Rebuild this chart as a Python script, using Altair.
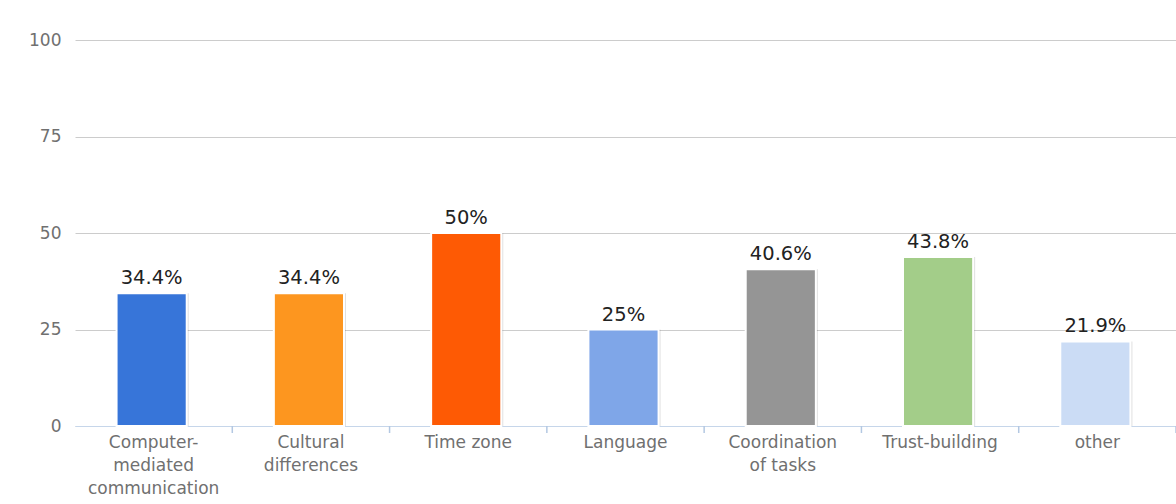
import altair as alt
import pandas as pd

categories = ["Computer-|mediated|communication", "Cultural|differences", "Time zone",
              "Language", "Coordination|of tasks", "Trust-building", "other"]
values = [34.4, 34.4, 50, 25, 40.6, 43.8, 21.9]
colors = ["#3775d9", "#fd961f", "#fe5a04", "#7fa6e8", "#959595", "#a3cd89", "#cbdcf5"]
y_ticks = [0, 25, 50, 75, 100]

df = pd.DataFrame({"cat": categories, "value": values})
df["label"] = [f"{v:g}%" for v in values]

W, H = 1101, 386
P_INNER = 0.554
xscale = alt.Scale(paddingInner=P_INNER, paddingOuter=P_INNER / 2)
x = alt.X("cat:N", sort=categories, title=None, scale=xscale,
          axis=alt.Axis(labelExpr="split(datum.value, '|')",
                        labelAngle=0,
                        labelColor="#707070", labelFont="DejaVu Sans", labelFontSize=17,
                        labelPadding=8, labelLineHeight=23, labelBaseline="top",
                        domainColor="#c6d6ea", ticks=False, grid=False, labelLimit=200))
y = alt.Y("value:Q", title=None,
          scale=alt.Scale(domain=[0, 100], nice=False),
          axis=alt.Axis(values=y_ticks, domain=False, ticks=False,
                        gridColor="#cccccc", labelColor="#707070",
                        labelFont="DejaVu Sans", labelFontSize=17, labelPadding=14))
color = alt.Color("cat:N", sort=categories, scale=alt.Scale(domain=categories, range=colors),
                  legend=None)

# tick at the right edge of each category's step (band end + half the inner gap)
half_gap = (W / len(categories)) * P_INNER / 2

base = alt.Chart(df)
ticks = base.mark_rule(color="#b3c8e2", strokeWidth=1.5, xOffset=half_gap).encode(
    x=alt.X("cat:N", sort=categories, bandPosition=1, scale=xscale),
    y=alt.value(H), y2=alt.value(H + 7))
shadow = base.mark_bar(color="#000000", opacity=0.12, xOffset=0, y2Offset=-3).encode(x=x, y=y)
bars = base.mark_bar(stroke="white", strokeWidth=2, xOffset=-2, y2Offset=-3).encode(
    x=x, y=y, color=color)
text = base.mark_text(dy=-5, dx=-2, baseline="bottom", font="DejaVu Sans", fontSize=19.5,
                      color="#222222").encode(x=x, y=y, text="label:N")

chart = (shadow + bars + text + ticks).properties(
    width=W, height=H,
    autosize=alt.AutoSizeParams(type="none"),
    padding={"left": 75, "top": 40, "right": 0, "bottom": 78},
).configure_view(stroke=None)

chart.save("out.html", embed_options={"renderer": "svg", "actions": False})
